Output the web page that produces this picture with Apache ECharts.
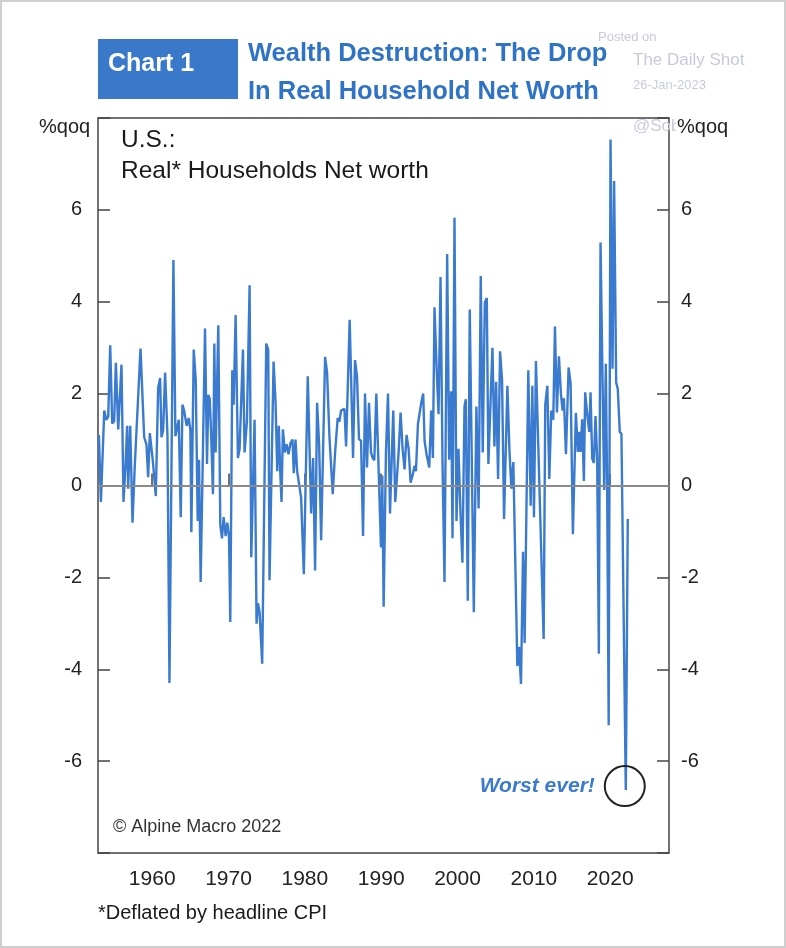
<!DOCTYPE html>
<html>
<head>
<meta charset="utf-8">
<script src="https://cdn.jsdelivr.net/npm/echarts@6/dist/echarts.min.js"></script>
<style>
  html, body { margin: 0; padding: 0; background: #fff; }
  #chart { width: 786px; height: 948px; }
</style>
</head>
<body>
<div id="chart"></div>
<script>
// Quarter dates (decimal years) and real household net worth % q/q
const dates = [
  1953.02, 1953.28, 1953.72, 1953.98, 1954.24, 1954.50, 1954.76, 1955.02, 1955.24, 1955.55,
  1955.72, 1955.98, 1956.24, 1956.51, 1956.72, 1956.85, 1957.12, 1957.42, 1957.73, 1957.99,
  1958.47, 1958.95, 1959.25, 1959.47, 1959.69, 1960.12, 1960.47, 1960.78, 1961.04, 1961.21,
  1961.43, 1961.69, 1962.00, 1962.26, 1962.78, 1963.04, 1963.22, 1963.48, 1963.74, 1963.96,
  1964.18, 1964.35, 1964.52, 1964.78, 1965.00, 1965.13, 1965.44,
  1965.70, 1965.96, 1966.13, 1966.35, 1966.92, 1967.18, 1967.36, 1967.53, 1967.70, 1967.96,
  1968.14, 1968.31, 1968.49, 1968.66, 1968.92, 1969.14, 1969.36, 1969.62, 1969.84, 1970.06,
  1970.23, 1970.49, 1970.67, 1970.93, 1971.23, 1971.45, 1971.89, 1972.10, 1972.41, 1972.76,
  1972.98, 1973.41, 1973.67, 1973.85, 1974.07, 1974.41, 1974.94, 1975.20, 1975.37, 1975.90,
  1976.16, 1976.38, 1976.59, 1976.77, 1976.94, 1977.12, 1977.38, 1977.60,
  1977.86, 1978.12, 1978.38, 1978.55, 1978.77, 1978.99, 1979.25, 1979.51, 1979.86, 1980.38,
  1980.82, 1981.08, 1981.34, 1981.60, 1981.87, 1982.13, 1982.65, 1982.91, 1983.22, 1983.65,
  1983.95, 1984.30, 1984.52, 1984.74, 1984.96, 1985.18, 1985.40, 1985.87, 1986.31, 1986.57,
  1986.83, 1987.09, 1987.36, 1987.62, 1987.88, 1988.14, 1988.40, 1988.66, 1988.88, 1989.10,
  1989.36, 1989.97, 1990.14, 1990.32,
  1990.62, 1990.89, 1991.15, 1991.58, 1991.84, 1992.10, 1992.28, 1992.54, 1992.80, 1993.06,
  1993.32, 1993.59, 1993.85, 1994.11, 1994.37, 1994.55, 1994.81, 1995.02, 1995.24, 1995.50,
  1995.68, 1995.94, 1996.29, 1996.55, 1996.77, 1996.98, 1997.25, 1997.51, 1997.77, 1998.03,
  1998.29, 1998.64, 1998.90, 1999.16, 1999.34, 1999.60, 1999.86, 2000.12, 2000.38, 2000.64,
  2000.91, 2001.08, 2001.34, 2001.60, 2002.13, 2002.47, 2002.76,
  2003.04, 2003.30, 2003.57, 2003.83, 2004.04, 2004.57, 2004.83, 2005.05, 2005.31, 2005.57,
  2005.83, 2006.09, 2006.53, 2006.79, 2007.05, 2007.31, 2007.83, 2008.05, 2008.31, 2008.58,
  2008.79, 2009.27, 2009.58, 2009.80, 2010.01, 2010.27, 2011.28, 2011.49, 2011.76, 2012.02,
  2012.28, 2012.54, 2012.76, 2013.02, 2013.28, 2013.54, 2013.76, 2013.93, 2014.20, 2014.55,
  2014.81, 2015.11,
  2015.50, 2015.76, 2015.94, 2016.11, 2016.33, 2016.55, 2016.72, 2016.98, 2017.25, 2017.42,
  2017.64, 2017.86, 2018.07, 2018.29, 2018.51, 2018.73, 2018.99, 2019.21, 2019.42, 2019.60,
  2019.80, 2020.04, 2020.30, 2020.51, 2020.78, 2020.99, 2021.25, 2021.47, 2021.65, 2022.04,
  2022.30
];
const values = [
  1.1, -0.36, 1.63, 1.43, 1.5, 3.05, 1.35, 1.4, 2.67, 1.22,
  1.22, 2.63, -0.36, 0.47, 1.3, -0.07, 1.3, -0.81, 0.47, 0.51,
  2.98, 1.05, 0.89, 0.18, 1.14, 0.47, -0.23, 2.13, 2.34, 1.05,
  1.2, 2.46, 1.1, -4.3, 4.91, 1.07, 1.1, 1.43, -0.69, 1.76,
  1.63, 1.63, 1.3, 1.47, 1.22, -1.02, 2.96,
  2.3, -0.77, 0.56, -2.1, 3.42, 0.47, 1.97, 1.89, 1.22, -0.19,
  3.09, 0.72, 0.72, 3.49, -0.85, -1.15, -0.69, -1.1, -0.81, -1.1,
  -2.97, 2.51, 1.76, 3.71, 0.6, 0.8, 2.96, 0.72, 1.39, 4.36,
  -1.56, 1.43, -3.01, -2.56, -2.76, -3.88, 3.09, 2.96, -2.06, 2.7,
  1.8, 0.31, 1.3, 0.31, -0.36, 1.22, 0.72, 0.9,
  0.68, 0.93, 1.0, 0.27, 1.0, 0.31, 0.27, -0.27, -1.93, 2.38,
  -0.61, 0.6, -1.85, 1.8, 0.89, -1.19, 2.8, 2.46, 1.05, -0.19,
  0.7, 1.47, 1.39, 1.63, 1.67, 1.67, 0.85, 3.61, 0.6, 2.73,
  2.38, 1.01, 0.97, -1.1, 2.0, 0.39, 1.8, 0.72, 0.6, 0.55,
  2.0, -1.35, 0.22, -2.64,
  0.72, 2.0, -0.61, 1.63, -0.36, -0.32, 0.72, 1.59, 0.8, 0.35,
  1.1, 0.8, 0.06, 0.22, 0.43, 0.31, 1.34, 1.3, 1.8, 2.0,
  0.97, 0.68, 0.39, 1.63, 0.6, 3.88, 2.59, 1.55, 4.54, 0.51,
  -2.1, 5.04, 0.56, 2.05, -1.15, 5.83, -0.77, 0.8, -0.56, -1.68,
  1.72, 1.88, -2.51, 3.83, -2.76, 1.72, -0.5,
  4.56, 0.72, 3.98, 4.08, 0.47, 3.0, 0.85, 2.26, 0.14, 2.92,
  2.3, -0.73, 2.17, 0.8, -0.07, 0.51, -3.93, -3.51, -4.32, -1.44,
  -3.43, 2.51, -0.44, 2.17, -0.69, 2.71, -3.34, 1.76, 2.17, 0.14,
  1.63, 1.43, 3.46, 1.59, 2.81, 2.0, 1.63, 1.9, 0.68, 2.57,
  2.22, -1.06,
  1.58, 0.73, 1.17, 0.73, 1.44, 0.1, 2.03, 1.56, 1.17, 2.03,
  0.59, 0.49, 1.51, 0.59, -3.66, 5.29, 2.34, -0.1, 2.65, -0.1,
  -5.22, 7.53, 2.54, 6.63, 2.24, 2.1, 1.17, 1.12, 1.12, -6.63,
  -0.73
];
const xTickYears = [1960, 1970, 1980, 1990, 2000, 2010, 2020];

const titleLines = ['Wealth Destruction: The Drop', 'In Real Household Net Worth'];
const chartTag = 'Chart 1';
const subtitleLines = ['U.S.:', 'Real* Households Net worth'];
const unitLabel = '%qoq';
const sourceText = '\u00A9 Alpine Macro 2022';
const footnote = '*Deflated by headline CPI';
const annotation = 'Worst ever!';

const BLUE = '#3a7bcf';
const FONT = "'Liberation Sans', Arial, sans-serif";

const chart = echarts.init(document.getElementById('chart'), null, { renderer: 'canvas' });

const yAxisBase = {
  type: 'value', min: -8, max: 8, interval: 2,
  axisLine: { show: false },
  axisTick: { show: true, inside: true, length: 12, lineStyle: { color: '#444', width: 1.5 } },
  axisLabel: {
    fontSize: 20, color: '#222', fontFamily: FONT,
    formatter: v => (v === 8 || v === -8) ? '' : String(v)
  },
  splitLine: { show: false }
};

chart.setOption({
  animation: false,
  backgroundColor: '#fff',
  grid: { left: 98, top: 118, width: 571, height: 735, show: true, borderColor: '#444', borderWidth: 1.5, backgroundColor: 'transparent' },
  xAxis: {
    type: 'value', min: 1952.9, max: 2027.7,
    axisLine: { show: false },
    axisTick: { show: true, inside: true, length: 12, customValues: xTickYears, lineStyle: { color: '#444', width: 1.5 } },
    axisLabel: { customValues: xTickYears, fontSize: 21, color: '#222', margin: 16, fontFamily: FONT, formatter: v => String(v) },
    splitLine: { show: false }
  },
  yAxis: [
    Object.assign({}, yAxisBase, { position: 'left', axisLabel: Object.assign({}, yAxisBase.axisLabel, { margin: 16 }) }),
    Object.assign({}, yAxisBase, { position: 'right', axisLabel: Object.assign({}, yAxisBase.axisLabel, { margin: 12 }) })
  ],
  series: [
    {
      type: 'line', data: [], z: 1, silent: true,
      markLine: {
        silent: true, symbol: 'none', label: { show: false },
        lineStyle: { color: '#8a8a8a', width: 2, type: 'solid' },
        data: [{ yAxis: 0 }]
      }
    },
    {
      type: 'line', z: 3,
      data: dates.map((d, i) => [d, values[i]]),
      showSymbol: false, symbol: 'none',
      lineStyle: { color: BLUE, width: 2.4 },
      markPoint: {
        silent: true,
        data: [{ type: 'min' }],
        symbol: 'circle', symbolSize: 40, symbolOffset: [-1, -4],
        itemStyle: { color: 'rgba(0,0,0,0)', borderColor: '#222', borderWidth: 2 },
        label: {
          show: true, position: 'left', distance: 9,
          formatter: annotation,
          color: BLUE, fontSize: 21, fontStyle: 'italic', fontWeight: 'bold', fontFamily: FONT
        }
      }
    }
  ],
  graphic: [
    { type: 'rect', shape: { x: 1, y: 1, width: 784, height: 946 }, style: { fill: 'none', stroke: '#cfcfcf', lineWidth: 2 }, silent: true },
    { type: 'rect', shape: { x: 98, y: 39, width: 140, height: 60 }, style: { fill: '#3a78c9' } },
    { type: 'text', left: 108, top: 52, style: { text: chartTag, fill: '#fff', font: "bold 25px " + FONT } },
    { type: 'text', left: 248, top: 41, style: { text: titleLines[0], fill: '#2f73c6', font: "bold 25.5px " + FONT } },
    { type: 'text', left: 248, top: 79, style: { text: titleLines[1], fill: '#2f73c6', font: "bold 25.5px " + FONT } },
    { type: 'text', left: 598, top: 31, style: { text: 'Posted on', fill: '#c9c9de', font: "13px " + FONT } },
    { type: 'text', left: 633, top: 52, style: { text: 'The Daily Shot', fill: '#c9c9de', font: "17px " + FONT } },
    { type: 'text', left: 633, top: 79, style: { text: '26-Jan-2023', fill: '#c9c9de', font: "13px " + FONT } },
    { type: 'text', left: 633, top: 118, style: { text: '@SoberLook', fill: '#c9c9de', font: "17px " + FONT } },
    { type: 'text', left: 39, top: 117, style: { text: unitLabel, fill: '#222', font: "20px " + FONT } },
    { type: 'text', left: 676, top: 117, z: 10, style: { text: unitLabel, fill: '#222', font: "20px " + FONT, backgroundColor: '#fff', padding: [0, 4, 0, 1] } },
    { type: 'text', left: 121, top: 128, style: { text: subtitleLines[0], fill: '#1a1a1a', font: "24.5px " + FONT } },
    { type: 'text', left: 121, top: 159, style: { text: subtitleLines[1], fill: '#1a1a1a', font: "24.5px " + FONT } },
    { type: 'text', left: 113, top: 818, style: { text: sourceText, fill: '#333', font: "18px " + FONT } },
    { type: 'text', left: 98, top: 903, style: { text: footnote, fill: '#1a1a1a', font: "20px " + FONT } }
  ]
});
</script>
</body>
</html>
